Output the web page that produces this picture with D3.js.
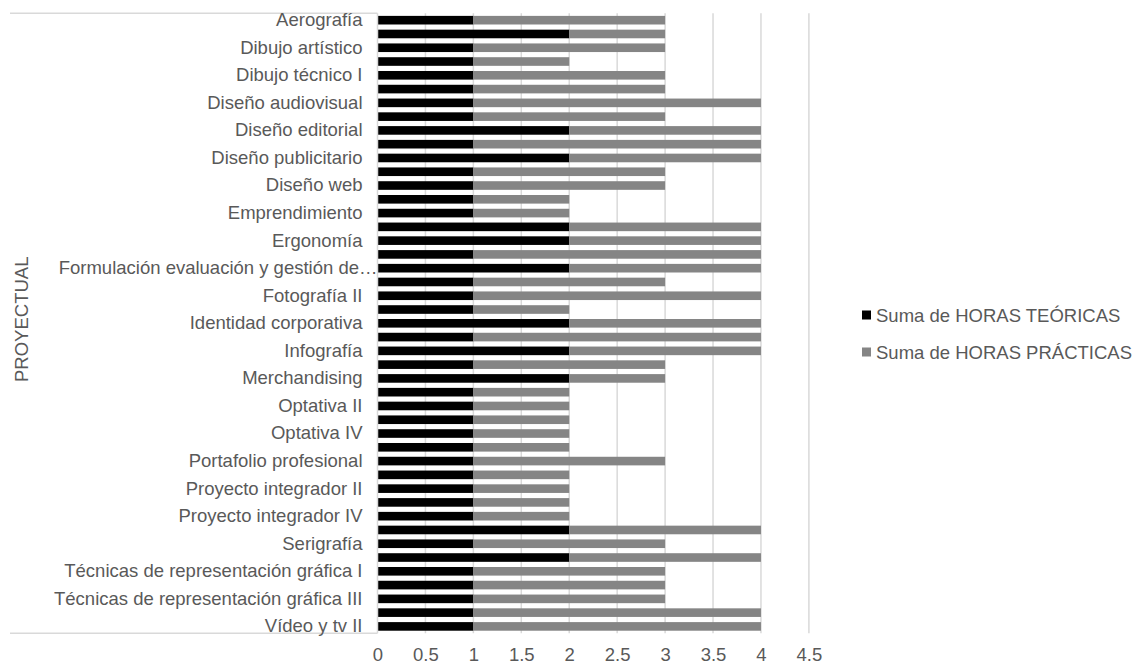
<!DOCTYPE html>
<html>
<head>
<meta charset="utf-8">
<script src="https://cdn.jsdelivr.net/npm/d3@7"></script>
<style>
  html, body { margin: 0; padding: 0; background: #ffffff; }
  svg { display: block; font-family: "Liberation Sans", Arial, sans-serif; }
</style>
</head>
<body>
<svg id="chart" width="1137" height="664"></svg>
<script>
// ---- data ----
const categories = [
  "Aerografía", "Animación digital", "Dibujo artístico", "Dibujo artístico II",
  "Dibujo técnico I", "Dibujo técnico II", "Diseño audiovisual", "Diseño de empaques",
  "Diseño editorial", "Diseño multimedia", "Diseño publicitario", "Diseño tipográfico",
  "Diseño web", "Ecodiseño", "Emprendimiento", "Envases y embalajes",
  "Ergonomía", "Estética", "Formulación evaluación y gestión de proyectos", "Fotografía I",
  "Fotografía II", "Historia del diseño", "Identidad corporativa", "Ilustración",
  "Infografía", "Marketing", "Merchandising", "Optativa I",
  "Optativa II", "Optativa III", "Optativa IV", "Packaging",
  "Portafolio profesional", "Proyecto integrador I", "Proyecto integrador II", "Proyecto integrador III",
  "Proyecto integrador IV", "Semiótica", "Serigrafía", "Taller de diseño",
  "Técnicas de representación gráfica I", "Técnicas de representación gráfica II", "Técnicas de representación gráfica III", "Vídeo y tv I",
  "Vídeo y tv II"
];
const horasTeoricas = [
  1, 2, 1, 1, 1, 1, 1, 1, 2, 1, 2, 1, 1, 1, 1,
  2, 2, 1, 2, 1, 1, 1, 2, 1, 2, 1, 2, 1, 1, 1,
  1, 1, 1, 1, 1, 1, 1, 2, 1, 2, 1, 1, 1, 1, 1
];
const horasPracticas = [
  2, 1, 2, 1, 2, 2, 3, 2, 2, 3, 2, 2, 2, 1, 1,
  2, 2, 3, 2, 2, 3, 1, 2, 3, 2, 2, 1, 1, 1, 1,
  1, 1, 2, 1, 1, 1, 1, 2, 2, 2, 2, 2, 2, 3, 3
];
const seriesNames = ["Suma de HORAS TEÓRICAS", "Suma de HORAS PRÁCTICAS"];
const seriesColors = ["#000000", "#858585"];
const xTicks = [0, 0.5, 1, 1.5, 2, 2.5, 3, 3.5, 4, 4.5];
const axisTitle = "PROYECTUAL";

// ---- layout ----
const svg = d3.select("#chart");
const plot = { left: 377.5, right: 808.9, top: 13.3, bottom: 633.3 };
const fontSize = "18.5px";
const textColor = "#595959";
const gridColor = "#d9d9d9";

const x = d3.scaleLinear().domain([0, 4.5]).range([plot.left, plot.right]);
const y = d3.scaleBand().domain(categories).range([plot.top, plot.bottom])
  .paddingInner(0.375).paddingOuter(0.1875);

// gridlines
svg.append("g").selectAll("line")
  .data(xTicks.filter(d => d > 0))
  .join("line")
  .attr("x1", d => x(d)).attr("x2", d => x(d))
  .attr("y1", plot.top).attr("y2", plot.bottom)
  .attr("stroke", gridColor).attr("stroke-width", 1.5);

// stacked bars
const rows = categories.map((c, i) => ({ cat: c, t: horasTeoricas[i], p: horasPracticas[i] }));
const stack = d3.stack().keys(["t", "p"])(rows);
svg.append("g").selectAll("g")
  .data(stack)
  .join("g")
  .attr("fill", (d, i) => seriesColors[i])
  .selectAll("rect")
  .data(d => d)
  .join("rect")
  .attr("x", d => x(d[0]))
  .attr("width", d => x(d[1]) - x(d[0]))
  .attr("y", d => y(d.data.cat))
  .attr("height", y.bandwidth());

// category axis frame lines
svg.append("line")
  .attr("x1", plot.left).attr("x2", plot.left)
  .attr("y1", plot.top).attr("y2", plot.bottom)
  .attr("stroke", gridColor).attr("stroke-width", 1.5);
[plot.top, plot.bottom].forEach(yy => {
  svg.append("line")
    .attr("x1", 10).attr("x2", plot.left)
    .attr("y1", yy).attr("y2", yy)
    .attr("stroke", gridColor).attr("stroke-width", 1.5);
});

// y axis (every other label)
const yAxis = d3.axisLeft(y)
  .tickValues(categories.filter((d, i) => i % 2 === 0))
  .tickSize(0).tickPadding(15)
  .tickFormat(d => d.length > 40 ? "Formulación evaluación y gestión de…" : d);
const gy = svg.append("g").attr("transform", `translate(${plot.left},0)`).call(yAxis);
gy.select(".domain").remove();
gy.selectAll("text")
  .attr("fill", textColor).style("font-size", fontSize)
  .attr("font-family", "Liberation Sans, Arial, sans-serif")
  .attr("dx", d => d.length > 40 ? 15 : 0);

// x axis
const xAxis = d3.axisBottom(x).tickValues(xTicks).tickSize(0).tickPadding(0)
  .tickFormat(d3.format("~g"));
const gx = svg.append("g").attr("transform", `translate(0,${plot.bottom})`).call(xAxis);
gx.select(".domain").remove();
gx.selectAll("text")
  .attr("fill", textColor).style("font-size", fontSize)
  .attr("font-family", "Liberation Sans, Arial, sans-serif")
  .attr("y", 28).attr("dy", 0);

// axis title
svg.append("text")
  .attr("transform", `translate(28,${(plot.top + plot.bottom) / 2 - 4}) rotate(-90)`)
  .attr("text-anchor", "middle")
  .attr("fill", textColor).style("font-size", fontSize)
  .text(axisTitle);

// legend
const legend = svg.append("g").selectAll("g")
  .data(seriesNames)
  .join("g")
  .attr("transform", (d, i) => `translate(862,${315 + i * 37})`);
legend.append("rect")
  .attr("x", 0).attr("y", -4.5).attr("width", 9).attr("height", 9)
  .attr("fill", (d, i) => seriesColors[i]);
legend.append("text")
  .attr("x", 14).attr("y", 6.5)
  .attr("fill", textColor).style("font-size", fontSize)
  .text(d => d);
</script>
</body>
</html>
